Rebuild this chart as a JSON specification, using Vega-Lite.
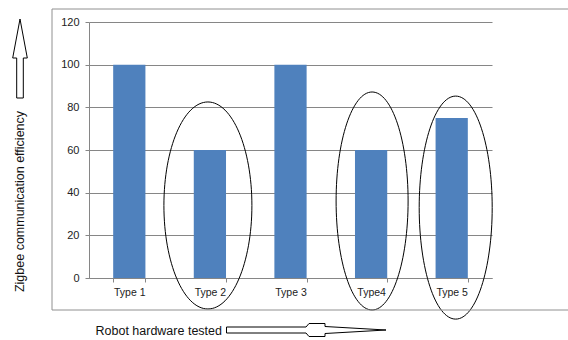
{
  "$schema": "https://vega.github.io/schema/vega-lite/v6.json",
  "width": 403,
  "height": 256,
  "autosize": {"type": "none"},
  "padding": {"left": 89, "top": 22, "right": 76, "bottom": 62},
  "background": "white",
  "config": {
    "view": {"stroke": null},
    "font": "Liberation Sans",
    "axis": {
      "labelFont": "Liberation Sans",
      "titleFont": "Liberation Sans",
      "labelColor": "#222222",
      "titleColor": "#111111",
      "titleFontWeight": "normal",
      "domainColor": "#868686",
      "tickColor": "#868686",
      "gridColor": "#868686",
      "gridOpacity": 1
    }
  },
  "data": {
    "values": [
      {"type": "Type 1", "value": 100},
      {"type": "Type 2", "value": 60},
      {"type": "Type 3", "value": 100},
      {"type": "Type4", "value": 60},
      {"type": "Type 5", "value": 75}
    ]
  },
  "encoding": {
    "x": {
      "field": "type",
      "type": "nominal",
      "sort": null,
      "scale": {"paddingInner": 0.6, "paddingOuter": 0.3},
      "axis": {
        "title": "Robot hardware tested",
        "titleFontSize": 12.5,
        "titleX": 6,
        "titleY": 52,
        "titleAlign": "left",
        "titleAnchor": "start",
        "titleBaseline": "middle",
        "labelAngle": 0,
        "labelFontSize": 10.5,
        "labelPadding": 5,
        "tickSize": 4,
        "tickBand": "extent",
        "grid": false
      }
    }
  },
  "layer": [
    {
      "mark": {"type": "bar", "color": "#4F81BD"},
      "encoding": {
        "y": {
          "field": "value",
          "type": "quantitative",
          "scale": {"domain": [0, 120], "nice": false},
          "axis": {
            "title": "Zigbee communication efficiency",
            "titleFontSize": 12.5,
            "titleX": -70,
            "titleY": 179,
            "titleAlign": "center",
            "titleBaseline": "middle",
            "values": [0, 20, 40, 60, 80, 100, 120],
            "labelFontSize": 11,
            "labelPadding": 6,
            "tickSize": 4,
            "grid": true
          }
        }
      }
    },
    {
      "transform": [{"filter": "datum.type === 'Type 2'"}],
      "mark": {"type": "point", "filled": false, "stroke": "#000000", "strokeWidth": 1, "opacity": 1, "size": 4,
        "shape": "M-2,-103.5 C22.3,-103.5 42,-57.2 42,0 C42,57.2 22.3,103.5 -2,103.5 C-26.3,103.5 -46,57.2 -46,0 C-46,-57.2 -26.3,-103.5 -2,-103.5 Z"},
      "encoding": {"y": {"datum": 34}}
    },
    {
      "transform": [{"filter": "datum.type === 'Type4'"}],
      "mark": {"type": "point", "filled": false, "stroke": "#000000", "strokeWidth": 1, "opacity": 1, "size": 4,
        "shape": "M1,-109 C20.9,-109 37,-60.2 37,0 C37,60.2 20.9,109 1,109 C-18.9,109 -35,60.2 -35,0 C-35,-60.2 -18.9,-109 1,-109 Z"},
      "encoding": {"y": {"datum": 36.1}}
    },
    {
      "transform": [{"filter": "datum.type === 'Type 5'"}],
      "mark": {"type": "point", "filled": false, "stroke": "#000000", "strokeWidth": 1, "opacity": 1, "size": 4,
        "shape": "M4,-111.5 C24.2,-111.5 40.5,-61.6 40.5,0 C40.5,61.6 24.2,111.5 4,111.5 C-16.2,111.5 -32.5,61.6 -32.5,0 C-32.5,-61.6 -16.2,-111.5 4,-111.5 Z"},
      "encoding": {"y": {"datum": 33}}
    },
    {
      "transform": [{"filter": "datum.type === 'Type 1'"}],
      "mark": {"type": "point", "filled": false, "stroke": "#909090", "strokeWidth": 1, "opacity": 1, "size": 4,
        "shape": "M-77.3,-269 L440.7,-269 L440.7,32 L-77.3,32 Z"},
      "encoding": {"y": {"datum": 0}}
    },
    {
      "transform": [{"filter": "datum.type === 'Type 1'"}],
      "mark": {"type": "point", "filled": false, "stroke": "#000000", "strokeWidth": 1, "opacity": 1, "size": 4,
        "shape": "M-109.3,-259 L-102,-220 L-106,-220 L-106,-180 L-112.6,-180 L-112.6,-220 L-116.6,-220 Z"},
      "encoding": {"y": {"datum": 0}}
    },
    {
      "transform": [{"filter": "datum.type === 'Type 1'"}],
      "mark": {"type": "point", "filled": false, "stroke": "#000000", "strokeWidth": 1, "opacity": 1, "size": 4,
        "shape": "M97.2,49 L176.7,49 L179.7,45.5 L195.7,45.5 L195.7,48.5 L256.7,52 L195.7,55.5 L195.7,58.5 L179.7,58.5 L176.7,55 L97.2,55 Z"},
      "encoding": {"y": {"datum": 0}}
    }
  ]
}
